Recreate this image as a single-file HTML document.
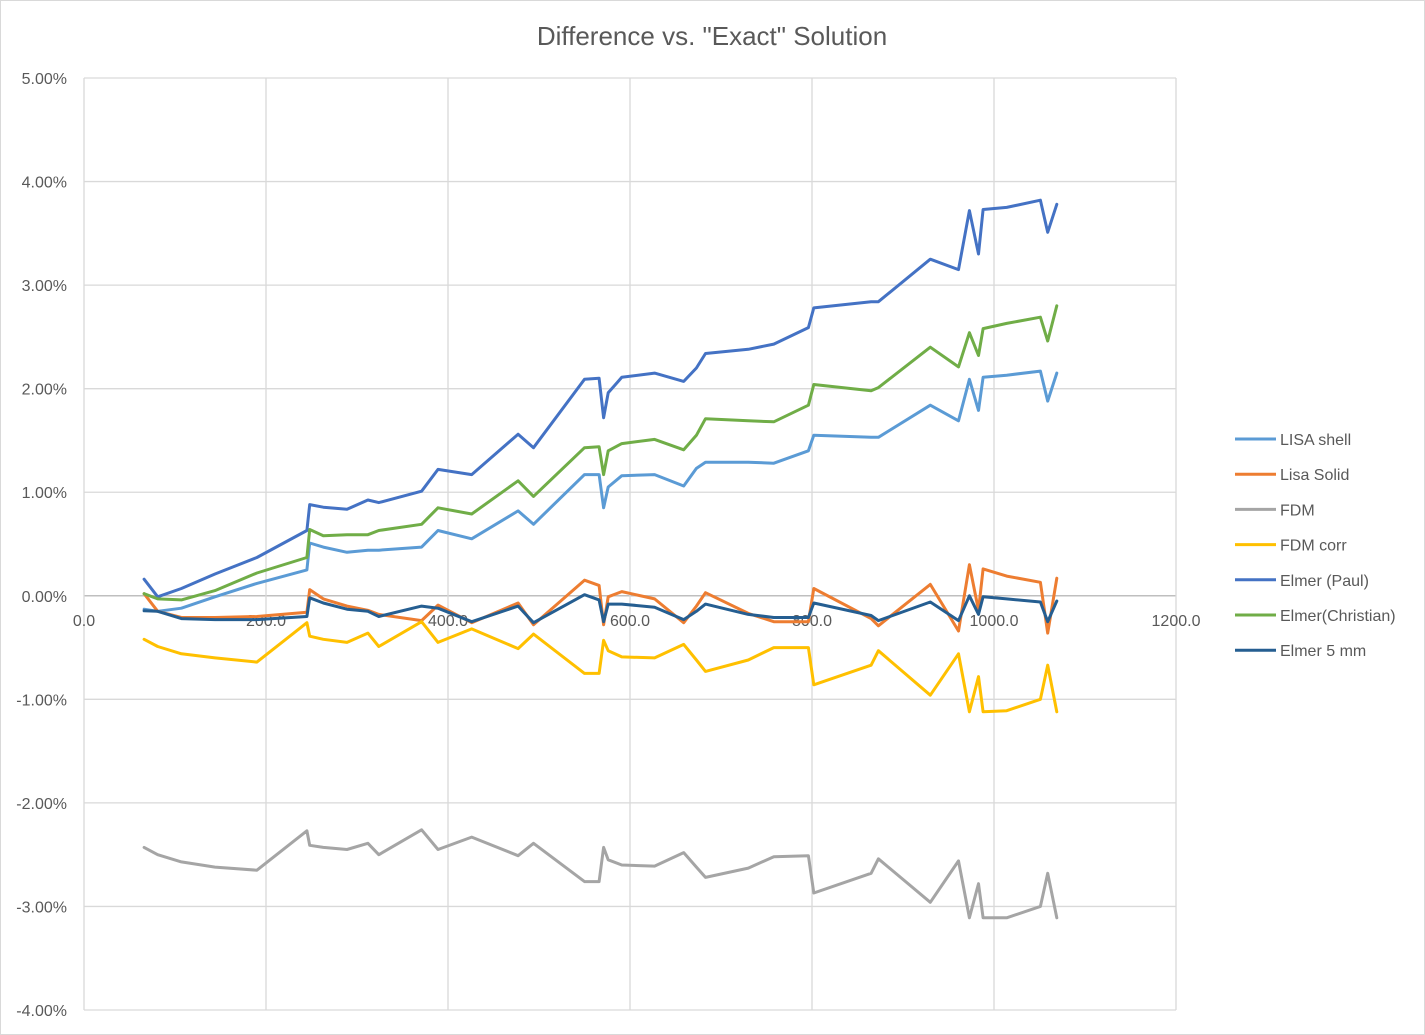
<!DOCTYPE html>
<html><head><meta charset="utf-8"><style>
body{margin:0;background:#fff;}
svg{display:block;font-family:"Liberation Sans",sans-serif;}
</style></head><body>
<svg id="chart" width="1425" height="1035" viewBox="0 0 1425 1035" xmlns="http://www.w3.org/2000/svg">
<rect x="0.5" y="0.5" width="1424" height="1034" fill="#fff" stroke="#d9d9d9"/>
<text x="712" y="45" text-anchor="middle" font-size="26" fill="#595959">Difference vs. "Exact" Solution</text>
<g id="grid"></g>
<g id="series"></g>
<g id="legend"></g>
</svg>
<script>
const xs = [66,81,107,144,190,245,248,263,289,312,324,371,389,426,477,494,550,566,571,576,591,627,659,673,683,730,758,796,802,865,873,930,961,973,983,988,1014,1051,1059,1069];
const lisaShell = [-0.13,-0.15,-0.12,-0.01,0.12,0.25,0.51,0.47,0.42,0.44,0.44,0.47,0.63,0.55,0.82,0.69,1.17,1.17,0.85,1.05,1.16,1.17,1.06,1.23,1.29,1.29,1.28,1.40,1.55,1.53,1.53,1.84,1.69,2.09,1.79,2.11,2.13,2.17,1.88,2.15];
const lisaSolid = [0.02,-0.15,-0.21,-0.21,-0.20,-0.16,0.06,-0.03,-0.10,-0.14,-0.18,-0.24,-0.09,-0.26,-0.07,-0.28,0.15,0.10,-0.28,-0.01,0.04,-0.03,-0.26,-0.10,0.03,-0.17,-0.25,-0.25,0.07,-0.22,-0.29,0.11,-0.34,0.30,-0.14,0.26,0.19,0.13,-0.36,0.17];
const fdm = [-2.43,-2.50,-2.57,-2.62,-2.65,-2.27,-2.41,-2.43,-2.45,-2.39,-2.50,-2.26,-2.45,-2.33,-2.51,-2.39,-2.76,-2.76,-2.43,-2.55,-2.60,-2.61,-2.48,-2.62,-2.72,-2.63,-2.52,-2.51,-2.87,-2.68,-2.54,-2.96,-2.56,-3.11,-2.78,-3.11,-3.11,-3.00,-2.68,-3.11];
const fdmCorr = [-0.42,-0.49,-0.56,-0.60,-0.64,-0.26,-0.39,-0.42,-0.45,-0.36,-0.49,-0.25,-0.45,-0.32,-0.51,-0.37,-0.75,-0.75,-0.43,-0.53,-0.59,-0.60,-0.47,-0.62,-0.73,-0.62,-0.50,-0.50,-0.86,-0.67,-0.53,-0.96,-0.56,-1.12,-0.78,-1.12,-1.11,-1.00,-0.67,-1.12];
const elmerPaul = [0.16,-0.01,0.07,0.21,0.37,0.63,0.88,0.855,0.835,0.925,0.90,1.01,1.22,1.17,1.56,1.43,2.09,2.10,1.72,1.96,2.11,2.15,2.07,2.20,2.34,2.38,2.43,2.59,2.78,2.84,2.84,3.25,3.15,3.72,3.30,3.73,3.75,3.82,3.51,3.78];
const elmerChristian = [0.02,-0.03,-0.04,0.05,0.22,0.37,0.64,0.58,0.59,0.59,0.63,0.69,0.85,0.79,1.11,0.96,1.43,1.44,1.17,1.40,1.47,1.51,1.41,1.55,1.71,1.69,1.68,1.84,2.04,1.98,2.01,2.40,2.21,2.54,2.32,2.58,2.63,2.69,2.46,2.80];
const elmer5mm = [-0.145,-0.15,-0.22,-0.23,-0.23,-0.20,-0.02,-0.07,-0.13,-0.15,-0.20,-0.10,-0.12,-0.25,-0.10,-0.26,0.01,-0.04,-0.25,-0.08,-0.08,-0.11,-0.23,-0.15,-0.08,-0.18,-0.21,-0.21,-0.07,-0.19,-0.24,-0.06,-0.24,0.00,-0.18,-0.01,-0.03,-0.06,-0.25,-0.05];
const xTicks = [0,200,400,600,800,1000,1200];
const xTickLabels = ["0.0","200.0","400.0","600.0","800.0","1000.0","1200.0"];
const yTicks = [5,4,3,2,1,0,-1,-2,-3,-4];
const yTickLabels = ["5.00%","4.00%","3.00%","2.00%","1.00%","0.00%","-1.00%","-2.00%","-3.00%","-4.00%"];
const seriesNames = ["LISA shell","Lisa Solid","FDM","FDM corr","Elmer (Paul)","Elmer(Christian)","Elmer 5 mm"];
const seriesColors = ["#5b9bd5","#ed7d31","#a5a5a5","#ffc000","#4472c4","#70ad47","#255e91"];
const seriesData = [lisaShell,lisaSolid,fdm,fdmCorr,elmerPaul,elmerChristian,elmer5mm];

const L=84,R=1176,T=78,B=1010,X0=0,X1=1200,Y0=-4,Y1=5;
function sx(v){return L+(v-X0)/(X1-X0)*(R-L);}
function sy(v){return B-(v-Y0)/(Y1-Y0)*(B-T);}
const NS="http://www.w3.org/2000/svg";
function mk(tag,attrs,parent){const e=document.createElementNS(NS,tag);for(const k in attrs)e.setAttribute(k,attrs[k]);parent.appendChild(e);return e;}
const grid=document.getElementById('grid');
yTicks.forEach((t,i)=>{
  const ln=mk('line',{x1:L,x2:R,y1:sy(t),y2:sy(t),stroke:t===0?'#bfbfbf':'#d9d9d9','stroke-width':t===0?1.5:1.3},grid);
  
  
  const tx=mk('text',{x:67,y:sy(t)+6,'text-anchor':'end','font-size':16,fill:'#595959'},grid);
  tx.textContent=yTickLabels[i];
  
  
});
xTicks.forEach((t,i)=>{
  const ln=mk('line',{x1:sx(t),x2:sx(t),y1:T,y2:B,stroke:'#d9d9d9','stroke-width':1.3},grid);
  
  
  const tx=mk('text',{x:sx(t),y:sy(0)+30,'text-anchor':'middle','font-size':16,fill:'#595959'},grid);
  tx.textContent=xTickLabels[i];
  
  
});
const sg=document.getElementById('series');
seriesData.forEach((d,si)=>{
  const pts=d.map((v,i)=>sx(xs[i]).toFixed(1)+','+sy(v).toFixed(1)).join(' ');
  const pl=mk('polyline',{points:pts,fill:'none',stroke:seriesColors[si],'stroke-width':3,'stroke-linejoin':'round','stroke-linecap':'round'},sg);
  
  
});
const lg=document.getElementById('legend');
seriesNames.forEach((n,i)=>{
  const y=439+i*35.2;
  const g=mk('g',{},lg);
  
  
  mk('line',{x1:1235,x2:1276,y1:y,y2:y,stroke:seriesColors[i],'stroke-width':3},g);
  const t=mk('text',{x:1280,y:y+6,'font-size':16,fill:'#595959'},g);
  t.textContent=n;
});
</script>
</body></html>
